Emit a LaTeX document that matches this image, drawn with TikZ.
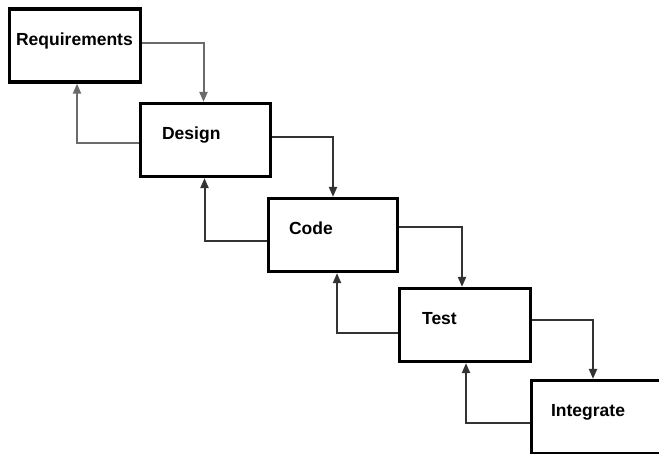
\documentclass[tikz,border=0pt]{standalone}
\usepackage{fontspec}
\newfontfamily\boxfont{Liberation Sans}
\usetikzlibrary{arrows.meta}

\tikzset{
  phase/.style={draw, line width=3.2pt, minimum height=73pt, inner sep=0pt},
  tag/.style={font=\boxfont\bfseries\fontsize{17.5}{20}\selectfont, inner sep=0pt, anchor=base west},
  flow/.style={line width=2pt, -{Triangle[length=10pt, width=8pt]}},
}

\begin{document}
\begin{tikzpicture}[x=1pt, y=1pt]

   \path [use as bounding box, clip] (0,0) rectangle (659,454);

   % 箱
   \node [phase, minimum width=131pt] (req)  at (75,408.5) {};
   \node [phase, minimum width=130pt] (des)  at (205.5,314) {};
   \node [phase, minimum width=129pt] (code) at (333,219) {};
   \node [phase, minimum width=131pt] (test) at (465,129) {};
   \node [phase, minimum width=131pt] (intg) at (597,37) {};

   % 文字
   \node [tag] at ([xshift=8pt]req.west) {Requirements};
   \node [tag] at ([xshift=23pt]des.west) {Design};
   \node [tag] at ([xshift=22pt]code.west) {Code};
   \node [tag] at ([xshift=24pt]test.west) {Test};
   \node [tag] at ([xshift=21pt]intg.west) {Integrate};

   % 下向きの矢印
   \draw [flow, black!58] ([yshift=2pt]req.east) -| ([xshift=-2pt]des.north);
   \draw [flow, black!80] ([yshift=3pt]des.east) -| (code.north);
   \draw [flow, black!80] ([yshift=8pt]code.east) -| ([xshift=-3pt]test.north);
   \draw [flow, black!80] ([yshift=5pt]test.east) -| ([xshift=-4pt]intg.north);

   % 戻りの矢印
   \draw [flow, black!58] ([yshift=-3pt]des.west) -| ([xshift=2pt]req.south);
   \draw [flow, black!80] ([yshift=-6pt]code.west) -| ([xshift=-1pt]des.south);
   \draw [flow, black!80] ([yshift=-8pt]test.west) -| ([xshift=4pt]code.south);
   \draw [flow, black!80] ([yshift=-6pt]intg.west) -| ([xshift=1pt]test.south);

\end{tikzpicture}
\end{document}
